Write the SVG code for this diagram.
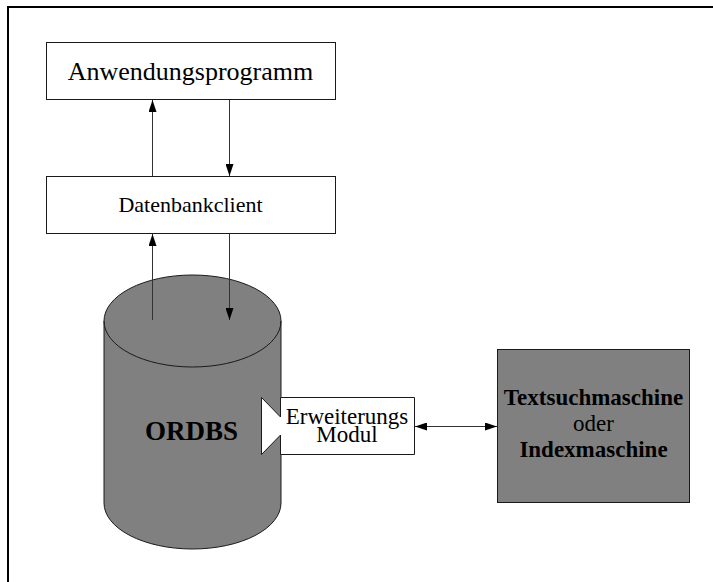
<svg xmlns="http://www.w3.org/2000/svg" width="713" height="582" viewBox="0 0 713 582">
<style>
  .box { fill: #ffffff; stroke: #1a1a1a; stroke-width: 1; }
  .gray { fill: #808080; stroke: #1a1a1a; stroke-width: 1; }
  .t { font-family: "Liberation Serif", "Times New Roman", serif; fill: #000000; text-anchor: middle; }
  .b { font-weight: bold; }
  .conn line { stroke: #333333; stroke-width: 1; }
</style>
<defs>
  <marker id="ah" viewBox="0 0 12 8" refX="12" refY="4" markerWidth="12" markerHeight="8" markerUnits="userSpaceOnUse" orient="auto-start-reverse">
    <path d="M0,0 L12,4 L0,8 Z" fill="#000000"/>
  </marker>
</defs>
<rect x="0" y="0" width="713" height="582" fill="#ffffff"/>
<path d="M8,582 L8,7 L713,7" fill="none" stroke="#000000" stroke-width="2"/>

<g id="anwendungsprogramm">
  <rect class="box" x="46.5" y="42.5" width="289" height="57"/>
  <text class="t" x="190.5" y="80" font-size="26">Anwendungsprogramm</text>
</g>

<g id="datenbankclient">
  <rect class="box" x="46.5" y="176.5" width="289" height="57"/>
  <text class="t" x="190.5" y="212" font-size="22">Datenbankclient</text>
</g>

<g id="ordbs">
  <path class="gray" d="M104,321 L104,503 A88.5,46 0 0 0 281,503 L281,321 A88.5,46 0 0 0 104,321 Z"/>
  <path d="M104,321 A88.5,46 0 0 0 281,321" fill="none" stroke="#1a1a1a" stroke-width="1"/>
  <text class="t b" x="191.5" y="440" font-size="27">ORDBS</text>
</g>

<g id="erweiterungsmodul">
  <path class="box" d="M280.5,397.5 L414.5,397.5 L414.5,454.5 L280.5,454.5 L280.5,435 L261.5,454.5 L261.5,397.5 L280.5,417 Z"/>
  <text class="t" x="347" y="424" font-size="23">Erweiterungs</text>
  <text class="t" x="347" y="442" font-size="23">Modul</text>
</g>

<g id="textsuchmaschine">
  <rect class="gray" x="497.5" y="349.5" width="192" height="153"/>
  <text class="t b" x="593.5" y="405" font-size="23">Textsuchmaschine</text>
  <text class="t" x="593.5" y="431" font-size="23">oder</text>
  <text class="t b" x="593.5" y="457" font-size="23">Indexmaschine</text>
</g>

<g id="connectors" class="conn">
  <line x1="152.5" y1="176" x2="152.5" y2="100" marker-end="url(#ah)"/>
  <line x1="229.5" y1="100" x2="229.5" y2="176" marker-end="url(#ah)"/>
  <line x1="152.5" y1="320" x2="152.5" y2="234" marker-end="url(#ah)"/>
  <line x1="229.5" y1="234" x2="229.5" y2="320" marker-end="url(#ah)"/>
  <line x1="415" y1="426.5" x2="497" y2="426.5" marker-start="url(#ah)" marker-end="url(#ah)"/>
</g>
</svg>
